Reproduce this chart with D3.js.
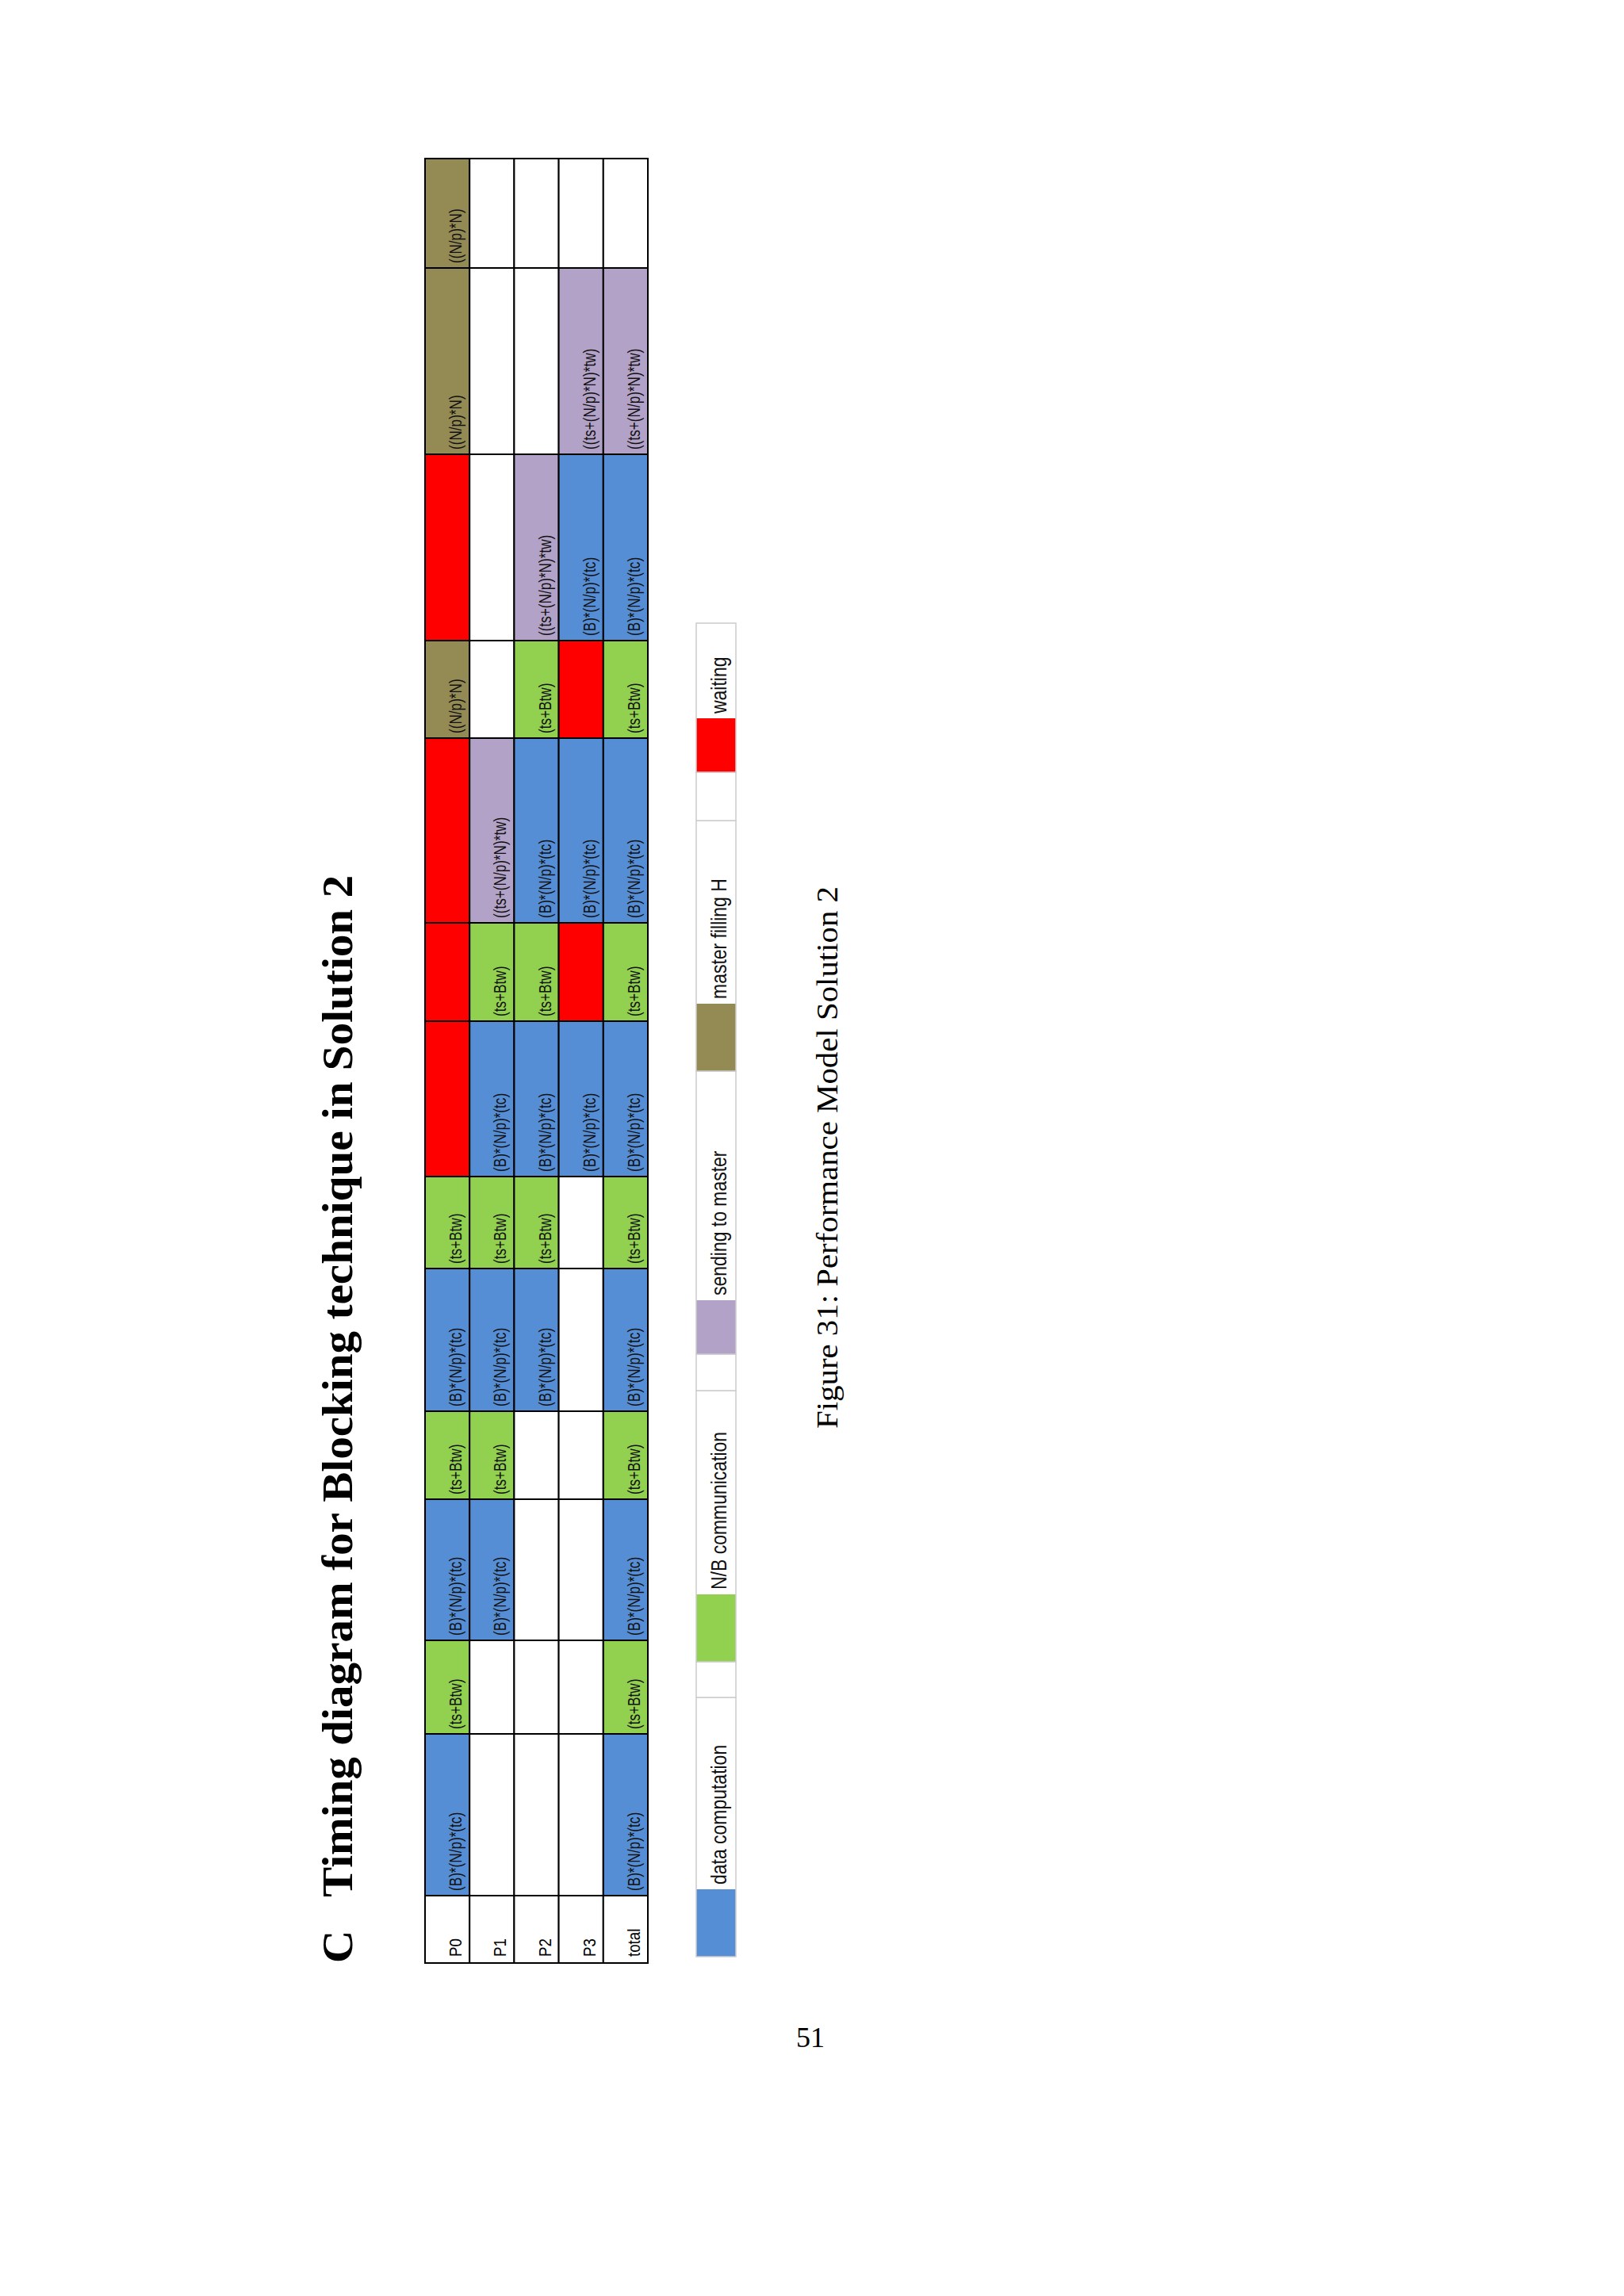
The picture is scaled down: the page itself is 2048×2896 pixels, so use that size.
<!DOCTYPE html>
<html><head><meta charset="utf-8">
<script src="https://cdn.jsdelivr.net/npm/d3@7"></script>
<style>body{margin:0;background:#fff}</style>
</head><body>
<svg id="c" width="2048" height="2896"></svg>
<script>
const rowLabels = ["P0","P1","P2","P3","total"];
const colDur = [204,118,178,111,180,116,196,124,233,123,235,235,138];
const rowsP0 = "B G B G B G R R R O R O O".split(" ");
const rowsP1 = "W W B G B G B G P W W W W".split(" ");
const rowsP2 = "W W W W B G B G B G P W W".split(" ");
const rowsP3 = "W W W W W W B R B R B P W".split(" ");
const rowsTotal = "B G B G B G B G B G B P W".split(" ");
const cellText = {B:"(B)*(N/p)*(tc)", G:"(ts+Btw)", P:"((ts+(N/p)*N)*tw)", O:"((N/p)*N)", R:"", W:""};
const cellColor = {B:"#558ED5", G:"#92D050", R:"#FF0000", O:"#948A54", P:"#B3A2C7", W:"#FFFFFF"};
const legendLabels = ["data computation","N/B communication","sending to master","master filling H","waiting"];
const legendKeys = ["B","G","P","O","R"];

const svg = d3.select("#c");
const grid = [rowsP0,rowsP1,rowsP2,rowsP3,rowsTotal];

// table group rotated
const g = svg.append("g").attr("transform","translate(536,2476) rotate(-90)");
const cum = [0]; colDur.forEach(d=>cum.push(cum[cum.length-1]+d));
const x = d3.scaleLinear().domain([0,cum[cum.length-1]]).range([85,2276]);
const y = d3.scaleBand().domain(rowLabels).range([0,281]);

function squeeze(sel, f){ sel.each(function(){ const w=this.getComputedTextLength(); if(w>0){ d3.select(this).attr("textLength", w*f).attr("lengthAdjust","spacingAndGlyphs"); } }); }

rowLabels.forEach((r,i)=>{
  g.append("rect").attr("x",0).attr("y",y(r)).attr("width",85).attr("height",y.bandwidth())
    .attr("fill","#fff").attr("stroke","#000").attr("stroke-width",2);
  const t=g.append("text").attr("x",8).attr("y",y(r)+y.bandwidth()-10).text(r)
    .attr("font-family","Liberation Sans").attr("font-size",22);
  squeeze(t,0.85);
  grid[i].forEach((k,j)=>{
    g.append("rect").attr("x",x(cum[j])).attr("y",y(r)).attr("width",x(cum[j+1])-x(cum[j])).attr("height",y.bandwidth())
      .attr("fill",cellColor[k]).attr("stroke","#000").attr("stroke-width",2);
    if(cellText[k]){
      const tt=g.append("text").attr("x",x(cum[j])+6).attr("y",y(r)+y.bandwidth()-10).text(cellText[k])
        .attr("font-family","Liberation Sans").attr("font-size",22).attr("fill","#111");
      squeeze(tt,0.78);
    }
  });
});

// legend (rotated)
const lg = svg.append("g").attr("transform","translate(878,2468) rotate(-90)");
const swW = 85;
const legTextW = [242,257,289,231,120];
const legGap = [45,46,0,61,0];
let pos=0;
legendLabels.forEach((lab,i)=>{
  lg.append("rect").attr("x",pos).attr("y",0).attr("width",swW*(i===2||i===4?0.8:1)).attr("height",50)
    .attr("fill",cellColor[legendKeys[i]]);
  const sw = swW*(i===2||i===4?0.8:1);
  lg.append("rect").attr("x",pos).attr("y",0).attr("width",sw+legTextW[i]).attr("height",50)
    .attr("fill","none").attr("stroke","#ccc").attr("stroke-width",1.5);
  const t=lg.append("text").attr("x",pos+sw+6).attr("y",38).text(lab)
    .attr("font-family","Liberation Sans").attr("font-size",28).attr("fill","#111");
  squeeze(t,0.82);
  pos += sw+legTextW[i];
  if(legGap[i]){ lg.append("rect").attr("x",pos).attr("y",0).attr("width",legGap[i]).attr("height",50)
    .attr("fill","#fff").attr("stroke","#ccc").attr("stroke-width",1.5); pos+=legGap[i]; }
});

// title
svg.append("text").attr("transform","translate(444,2476) rotate(-90)")
  .attr("font-family","Liberation Serif").attr("font-weight","bold").attr("font-size",54)
  .attr("textLength",1372).attr("lengthAdjust","spacingAndGlyphs")
  .attr("xml:space","preserve").text("C   Timing diagram for Blocking technique in Solution 2");
// caption
svg.append("text").attr("transform","translate(1056,1802) rotate(-90)")
  .attr("font-family","Liberation Serif").attr("font-size",38)
  .attr("textLength",684).attr("lengthAdjust","spacingAndGlyphs")
  .text("Figure 31:  Performance Model Solution 2");
// page number
svg.append("text").attr("x",1022).attr("y",2582).attr("text-anchor","middle")
  .attr("font-family","Liberation Serif").attr("font-size",36).text("51");
</script>
</body></html>
